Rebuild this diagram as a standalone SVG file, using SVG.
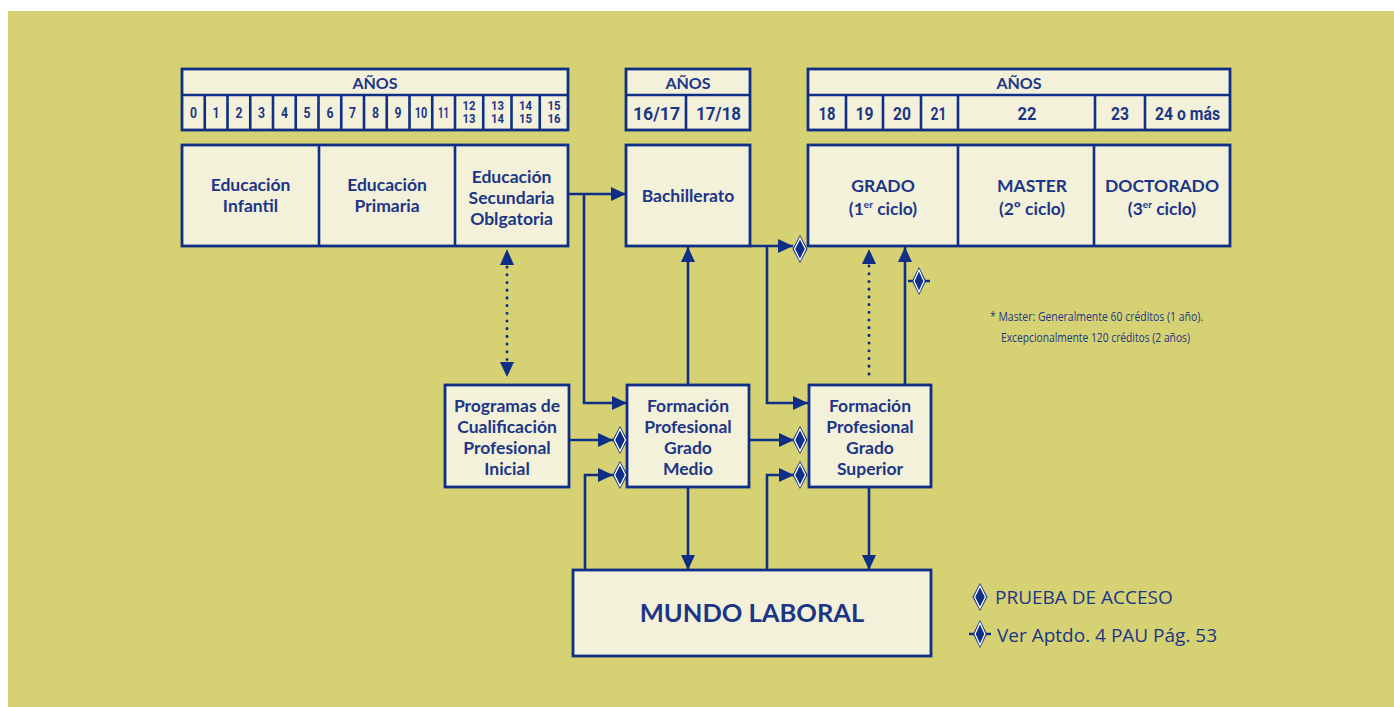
<svg xmlns="http://www.w3.org/2000/svg" xmlns:xlink="http://www.w3.org/1999/xlink" width="1394" height="707" viewBox="0 0 1394 707">
<style>
.box{fill:#f3f1da;stroke:#0f2f87;stroke-width:2.8}
.ln{fill:none;stroke:#0f2f87;stroke-width:2.6}
.dot{fill:none;stroke:#0f2f87;stroke-width:3;stroke-dasharray:0.1 7.6;stroke-linecap:round}
.t{font-family:Lato,"Open Sans",sans-serif;font-weight:bold;fill:#1c3587;text-anchor:middle;font-size:17.5px}
.n{font-family:Roboto,"Liberation Sans",sans-serif;font-weight:bold;fill:#1c3587;text-anchor:middle;font-size:15px}
.s{font-family:Roboto,"Liberation Sans",sans-serif;font-weight:bold;fill:#1c3587;text-anchor:middle;font-size:12.5px}
.h{font-family:Lato,"Open Sans",sans-serif;font-weight:bold;fill:#1c3587;text-anchor:middle;font-size:16px}
.big{font-family:Roboto,"Liberation Sans",sans-serif;font-weight:bold;fill:#1c3587;text-anchor:middle;font-size:19px}
.ml{font-family:Lato,"Open Sans",sans-serif;font-weight:bold;fill:#1c3587;text-anchor:middle;font-size:25.5px}
.note{font-family:"Open Sans","Liberation Sans",sans-serif;fill:#1c3587;font-size:12px}
.leg{font-family:"Open Sans","Liberation Sans",sans-serif;fill:#1c3587;font-size:19px}
</style>
<defs>
<marker id="ah" markerUnits="userSpaceOnUse" markerWidth="16" markerHeight="14" refX="15" refY="7" orient="auto">
<path d="M0,0 L15,7 L0,14 z" fill="#0f2f87"/>
</marker>
<g id="dia">
<polygon points="0,-14 7.5,0 0,14 -7.5,0" fill="#0f2f87"/>
<polygon points="0,-11 5.5,0 0,11 -5.5,0" fill="#0f2f87" stroke="#ffffff" stroke-width="1.3"/>
</g>
<g id="diax">
<line x1="-11" y1="0" x2="11" y2="0" stroke="#0f2f87" stroke-width="2.5"/>
<polygon points="0,-14 7,0 0,14 -7,0" fill="#0f2f87"/>
<polygon points="0,-11 5,0 0,11 -5,0" fill="#0f2f87" stroke="#ffffff" stroke-width="1.3"/>
</g>
</defs>
<rect x="0" y="0" width="1394" height="707" fill="#ffffff"/>
<rect x="8" y="11" width="1386" height="696" fill="#d6d274"/>

<g id="anos1">
<rect class="box" x="182" y="69" width="386" height="61"/>
<line class="ln" x1="182" y1="95" x2="568" y2="95"/>
<path class="ln" d="M204.75,95V130M227.5,95V130M250.25,95V130M273,95V130M295.75,95V130M318.5,95V130M341.25,95V130M364,95V130M386.75,95V130M409.5,95V130M432.25,95V130M455,95V130M483.25,95V130M511.5,95V130M539.75,95V130"/>
<text class="h" x="375" y="89">AÑOS</text>
<text class="n" x="193.4" y="118" textLength="7" lengthAdjust="spacingAndGlyphs">0</text>
<text class="n" x="216.1" y="118" textLength="7" lengthAdjust="spacingAndGlyphs">1</text>
<text class="n" x="238.9" y="118" textLength="7" lengthAdjust="spacingAndGlyphs">2</text>
<text class="n" x="261.6" y="118" textLength="7" lengthAdjust="spacingAndGlyphs">3</text>
<text class="n" x="284.4" y="118" textLength="7" lengthAdjust="spacingAndGlyphs">4</text>
<text class="n" x="307.1" y="118" textLength="7" lengthAdjust="spacingAndGlyphs">5</text>
<text class="n" x="329.9" y="118" textLength="7" lengthAdjust="spacingAndGlyphs">6</text>
<text class="n" x="352.6" y="118" textLength="7" lengthAdjust="spacingAndGlyphs">7</text>
<text class="n" x="375.4" y="118" textLength="7" lengthAdjust="spacingAndGlyphs">8</text>
<text class="n" x="398.1" y="118" textLength="7" lengthAdjust="spacingAndGlyphs">9</text>
<text class="n" x="420.9" y="118" textLength="12.5" lengthAdjust="spacingAndGlyphs">10</text>
<text class="n" x="443.6" y="118" textLength="11" lengthAdjust="spacingAndGlyphs">11</text>
<text class="s" x="469.1" y="110" textLength="13" lengthAdjust="spacingAndGlyphs">12</text>
<text class="s" x="469.1" y="123" textLength="13" lengthAdjust="spacingAndGlyphs">13</text>
<text class="s" x="497.4" y="110" textLength="13" lengthAdjust="spacingAndGlyphs">13</text>
<text class="s" x="497.4" y="123" textLength="13" lengthAdjust="spacingAndGlyphs">14</text>
<text class="s" x="525.6" y="110" textLength="13" lengthAdjust="spacingAndGlyphs">14</text>
<text class="s" x="525.6" y="123" textLength="13" lengthAdjust="spacingAndGlyphs">15</text>
<text class="s" x="553.9" y="110" textLength="13" lengthAdjust="spacingAndGlyphs">15</text>
<text class="s" x="553.9" y="123" textLength="13" lengthAdjust="spacingAndGlyphs">16</text>
</g>

<g id="anos2">
<rect class="box" x="626" y="69" width="124" height="61"/>
<line class="ln" x1="626" y1="95" x2="750" y2="95"/>
<line class="ln" x1="686" y1="95" x2="686" y2="130"/>
<text class="h" x="688" y="89">AÑOS</text>
<text class="big" x="656.5" y="120" textLength="47" lengthAdjust="spacingAndGlyphs">16/17</text>
<text class="big" x="718.5" y="120" textLength="45" lengthAdjust="spacingAndGlyphs">17/18</text>
</g>

<g id="anos3">
<rect class="box" x="808" y="69" width="422" height="61"/>
<line class="ln" x1="808" y1="95" x2="1230" y2="95"/>
<path class="ln" d="M846,95V130M883,95V130M921,95V130M958,95V130M1095,95V130M1145,95V130"/>
<text class="h" x="1019" y="89">AÑOS</text>
<text class="big" x="827" y="120" textLength="17" lengthAdjust="spacingAndGlyphs">18</text>
<text class="big" x="864.5" y="120" textLength="18" lengthAdjust="spacingAndGlyphs">19</text>
<text class="big" x="902" y="120" textLength="18" lengthAdjust="spacingAndGlyphs">20</text>
<text class="big" x="938.5" y="120" textLength="16" lengthAdjust="spacingAndGlyphs">21</text>
<text class="big" x="1027" y="120" textLength="19" lengthAdjust="spacingAndGlyphs">22</text>
<text class="big" x="1120" y="120" textLength="18" lengthAdjust="spacingAndGlyphs">23</text>
<text class="big" x="1187.5" y="120" textLength="65" lengthAdjust="spacingAndGlyphs">24 o más</text>
</g>

<g id="educacion">
<rect class="box" x="182" y="145" width="386" height="101"/>
<line class="ln" x1="319" y1="145" x2="319" y2="246"/>
<line class="ln" x1="455" y1="145" x2="455" y2="246"/>
<text class="t" x="250.5" y="191">Educación</text>
<text class="t" x="250.5" y="212">Infantil</text>
<text class="t" x="387" y="191">Educación</text>
<text class="t" x="387" y="212">Primaria</text>
<text class="t" x="511.5" y="183">Educación</text>
<text class="t" x="511.5" y="204">Secundaria</text>
<text class="t" x="511.5" y="225">Oblgatoria</text>
</g>

<g id="bachillerato">
<rect class="box" x="626" y="145" width="124" height="101"/>
<text class="t" x="688" y="202">Bachillerato</text>
</g>

<g id="universidad">
<rect class="box" x="808" y="145" width="422" height="101"/>
<line class="ln" x1="958" y1="145" x2="958" y2="246"/>
<line class="ln" x1="1094" y1="145" x2="1094" y2="246"/>
<text class="t" x="883" y="192">GRADO</text>
<text class="t" x="883" y="215">(1<tspan style="font-size:10px" dy="-7">er</tspan><tspan dy="7"> ciclo)</tspan></text>
<text class="t" x="1032" y="192">MASTER</text>
<text class="t" x="1032" y="215">(2º ciclo)</text>
<text class="t" x="1162" y="192">DOCTORADO</text>
<text class="t" x="1162" y="215">(3<tspan style="font-size:10px" dy="-7">er</tspan><tspan dy="7"> ciclo)</tspan></text>
</g>

<g id="pcpi">
<rect class="box" x="445" y="385" width="124" height="102"/>
<text class="t" x="507" y="412">Programas de</text>
<text class="t" x="507" y="433">Cualificación</text>
<text class="t" x="507" y="454">Profesional</text>
<text class="t" x="507" y="475">Inicial</text>
</g>

<g id="fpmedio">
<rect class="box" x="627" y="385" width="122" height="102"/>
<text class="t" x="688" y="412">Formación</text>
<text class="t" x="688" y="433">Profesional</text>
<text class="t" x="688" y="454">Grado</text>
<text class="t" x="688" y="475">Medio</text>
</g>

<g id="fpsuperior">
<rect class="box" x="809" y="385" width="122" height="102"/>
<text class="t" x="870" y="412">Formación</text>
<text class="t" x="870" y="433">Profesional</text>
<text class="t" x="870" y="454">Grado</text>
<text class="t" x="870" y="475">Superior</text>
</g>

<g id="mundolaboral">
<rect class="box" x="573" y="570" width="358" height="86"/>
<text class="ml" x="752" y="622">MUNDO LABORAL</text>
</g>

<g id="connectors">
<path class="ln" d="M568,194H626" marker-end="url(#ah)"/>
<path class="ln" d="M584,194V403H627" marker-end="url(#ah)"/>
<path class="ln" d="M688,385V247" marker-end="url(#ah)"/>
<path class="ln" d="M750,246H793" marker-end="url(#ah)"/>
<path class="ln" d="M767,246V403H808" marker-end="url(#ah)"/>
<path class="dot" d="M507,267V362"/>
<path d="M507,249L514,265H500z" fill="#0f2f87"/>
<path d="M507,377L514,362H500z" fill="#0f2f87"/>
<path class="dot" d="M869,266V378"/>
<path d="M869,249L876,264H862z" fill="#0f2f87"/>
<path class="ln" d="M905,385V247" marker-end="url(#ah)"/>
<path class="ln" d="M569,440H613" marker-end="url(#ah)"/>
<path class="ln" d="M585,570V475H613" marker-end="url(#ah)"/>
<path class="ln" d="M749,440H794" marker-end="url(#ah)"/>
<path class="ln" d="M767,570V475H794" marker-end="url(#ah)"/>
<path class="ln" d="M688,487V570" marker-end="url(#ah)"/>
<path class="ln" d="M869,487V570" marker-end="url(#ah)"/>
<use xlink:href="#dia" x="800" y="249"/>
<use xlink:href="#dia" x="620" y="440"/>
<use xlink:href="#dia" x="620" y="475"/>
<use xlink:href="#dia" x="800" y="440"/>
<use xlink:href="#dia" x="800" y="475"/>
<use xlink:href="#diax" x="919" y="281"/>
</g>

<g id="nota">
<text class="note" x="990" y="321" textLength="213" lengthAdjust="spacingAndGlyphs">* Master: Generalmente 60 créditos (1 año).</text>
<text class="note" x="1001" y="342" textLength="189" lengthAdjust="spacingAndGlyphs">Excepcionalmente 120 créditos (2 años)</text>
</g>

<g id="leyenda">
<use xlink:href="#dia" x="980" y="597"/>
<text class="leg" x="995" y="604">PRUEBA DE ACCESO</text>
<use xlink:href="#diax" x="980" y="634"/>
<text class="leg" x="997" y="642">Ver Aptdo. 4 PAU Pág. 53</text>
</g>
</svg>
